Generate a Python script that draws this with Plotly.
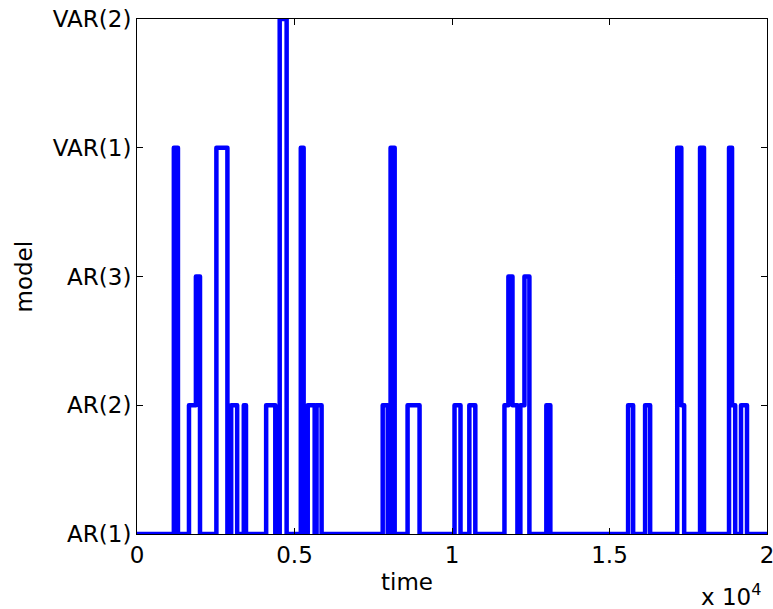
import plotly.graph_objects as go

# change points: time at which the selected model switches, and the new model level
change_time = [0, 1170, 1300, 1650, 1870, 2000, 2520, 2870, 2990, 3180, 3390, 3460,
               4100, 4390, 4530, 4750, 5200, 5290, 5420, 5640, 5700, 5860,
               7800, 7960, 8050, 8180, 8590, 8970, 10080, 10270, 10550, 10740,
               11665, 11790, 11920, 12077, 12170, 12300, 12457, 12995, 13122,
               15590, 15750, 16130, 16290, 17150, 17280, 17370, 17875, 18000,
               18795, 18890, 18990, 19175, 19365, 20000]
model_level = [0, 3, 0, 1, 2, 0, 3, 0, 1, 0, 1, 0,
               1, 0, 4, 0, 3, 0, 1, 0, 1, 0,
               1, 0, 3, 0, 1, 0, 1, 0, 1, 0,
               1, 2, 1, 0, 1, 2, 0, 1, 0,
               1, 0, 1, 0, 3, 1, 0, 3, 0,
               3, 1, 0, 1, 0, 0]

model_names = ["AR(1)", "AR(2)", "AR(3)", "VAR(1)", "VAR(2)"]
x_tick_vals = [0, 5000, 10000, 15000, 20000]
x_tick_text = ["0", "0.5", "1", "1.5", "2"]

font_family = "'DejaVu Sans', sans-serif"
FS = 23

fig = go.Figure()
fig.add_trace(go.Scatter(
    x=change_time, y=model_level, mode="lines",
    line=dict(color="#0000FF", width=4.5, shape="hv"),
    cliponaxis=False, showlegend=False,
))

axis_common = dict(
    ticks="inside", ticklen=6, tickcolor="black", tickwidth=1,
    showline=True, linecolor="black", linewidth=1, mirror="ticks",
    showgrid=False, zeroline=False, automargin=False,
    tickfont=dict(size=FS),
)

fig.update_layout(
    width=773, height=609,
    margin=dict(l=137, r=6, t=19, b=75),
    paper_bgcolor="white", plot_bgcolor="white",
    font=dict(family=font_family, size=FS, color="black"),
    xaxis=dict(range=[0, 20000], tickvals=x_tick_vals, ticktext=x_tick_text,
               ticklabeloverflow="allow", **axis_common),
    yaxis=dict(range=[0, 4], tickvals=list(range(len(model_names))), ticktext=model_names,
               **axis_common),
    annotations=[
        dict(text="time", xref="paper", yref="paper", x=0.428, y=0,
             xanchor="center", yanchor="middle", yshift=-48, showarrow=False,
             font=dict(size=FS)),
        dict(text="model", xref="paper", yref="paper", x=0, y=0.5,
             xanchor="center", yanchor="middle", xshift=-114, showarrow=False,
             textangle=-90, font=dict(size=FS)),
        dict(text="x 10<sup>4</sup>", xref="paper", yref="paper", x=1.0, y=0,
             xanchor="right", yanchor="bottom", xshift=-4, yshift=-78, showarrow=False,
             font=dict(size=FS)),
    ],
)

fig.write_html(
    "out.html",
    config={"displayModeBar": False},
    post_script=(
        "document.body.style.margin='0';"
        "document.querySelectorAll('.scatterlayer path.js-line').forEach(function(p){"
        "p.style.strokeLinejoin='round';p.style.strokeLinecap='round';});"
    ),
)
